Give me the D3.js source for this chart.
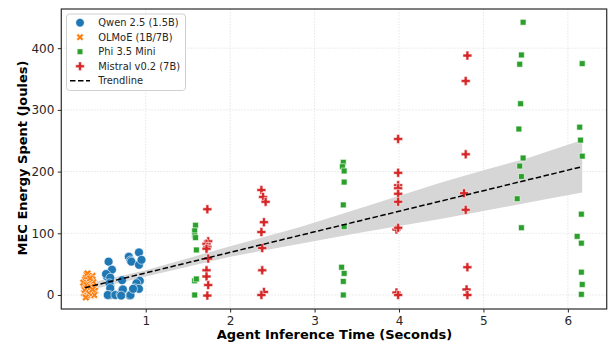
<!DOCTYPE html>
<html><head><meta charset="utf-8">
<script src="https://cdn.jsdelivr.net/npm/d3@7"></script>
<style>
html,body{margin:0;padding:0;background:#fff;}
svg{display:block;font-family:"DejaVu Sans",sans-serif;}
</style></head>
<body>
<svg id="chart" width="611" height="344"></svg>
<script>
// ---- data ----
const seriesNames = ["Qwen 2.5 (1.5B)", "OLMoE (1B/7B)", "Phi 3.5 Mini", "Mistral v0.2 (7B)"];
const seriesColors = ["#1f77b4", "#ff7f0e", "#2ca02c", "#d62728"];

const qwenPoints = [
  [0.56,54],[0.60,41],[0.54,30],[0.53,34],[0.58,28],[0.58,16],[0.57,19],[0.58,11],[0.57,0],[0.55,0],
  [0.64,0],[0.70,1],[0.72,24],[0.72,8],[0.73,9],[0.71,-1],[0.81,-1],[0.82,0],[0.80,62],[0.82,56],
  [0.83,54],[0.92,69],[0.92,49],[0.95,57],[0.92,22],[0.93,23],[0.89,19],[0.87,11],[0.92,10],[0.85,10]
];
const olmoePoints = [
  [0.27,3],[0.29,12],[0.31,22],[0.33,30],[0.35,8],[0.37,17],[0.30,-2],[0.34,0],[0.38,4],[0.28,25],
  [0.32,14],[0.36,26],[0.39,12],[0.30,33],[0.34,20],[0.27,16],[0.31,6],[0.35,-1],[0.38,21],[0.29,28],
  [0.33,10],[0.36,2],[0.40,7],[0.28,8],[0.32,19],[0.37,31],[0.31,35],[0.26,20],[0.34,27],[0.39,0],
  [0.30,16],[0.35,13],[0.33,3],[0.29,-4],[0.37,9]
];
const phiPoints = [
  [1.59,113],[1.58,104],[1.58,96],[1.59,93],[1.60,73],[1.58,23],[1.60,26],[1.58,0],
  [3.34,215],[3.33,208],[3.35,201],[3.35,183],[3.34,146],[3.35,111],[3.32,45],[3.35,35],[3.34,22],[3.34,0],
  [5.47,442],[5.45,389],[5.43,374],[5.44,310],[5.42,269],[5.47,222],[5.43,209],[5.45,192],[5.40,156],[5.45,109],
  [6.17,375],[6.14,272],[6.15,251],[6.17,225],[6.16,131],[6.11,95],[6.16,84],[6.16,37],[6.17,17],[6.16,1]
];
const mistralPoints = [
  [1.73,139],[1.74,87],[1.72,83],[1.73,78],[1.72,75],[1.74,59],[1.72,40],[1.72,30],[1.74,16],[1.73,-1],
  [2.37,170],[2.39,159],[2.42,151],[2.40,118],[2.37,102],[2.38,76],[2.38,40],[2.40,5],[2.37,0],
  [3.99,253],[3.99,198],[3.99,178],[3.99,173],[3.99,164],[3.99,151],[3.97,106],[3.99,109],[3.97,4],[3.99,0],
  [4.81,388],[4.79,347],[4.79,228],[4.77,165],[4.79,138],[4.81,45],[4.80,9],[4.81,0]
];

// trendline and confidence band
const trendX = [0.28, 6.17];
const trendY = [11.8, 208];
const bandX     = [0.28, 1.0, 1.41, 2.0, 2.83, 3.5, 4.49, 5.0, 5.5, 6.17];
const bandUpper = [18,   40,  56,   79,  110, 139, 182, 202, 221, 251];
const bandLower = [6,    30,  43,   62,   83, 100, 123, 136, 149, 166];

const xTicks = [1, 2, 3, 4, 5, 6];
const yTicks = [0, 100, 200, 300, 400];
const xLabel = "Agent Inference Time (Seconds)";
const yLabel = "MEC Energy Spent (Joules)";
const trendLabel = "Trendline";

// ---- layout ----
const svg = d3.select("#chart");
const L = 61.3, R = 606.7, T = 9, B = 309;
const x = d3.scaleLinear().domain([0, 6.46]).range([L, R]);
const y = d3.scaleLinear().domain([-22.7, 463.5]).range([B, T]);

// grid
const grid = svg.append("g");
grid.selectAll(".gx").data(xTicks).join("line")
  .attr("x1", d => x(d)).attr("x2", d => x(d)).attr("y1", T).attr("y2", B)
  .attr("stroke", "#e0e0e0").attr("stroke-width", 0.8).attr("stroke-dasharray", "1.5,1.5");
grid.selectAll(".gy").data(yTicks).join("line")
  .attr("y1", d => y(d)).attr("y2", d => y(d)).attr("x1", L).attr("x2", R)
  .attr("stroke", "#e0e0e0").attr("stroke-width", 0.8).attr("stroke-dasharray", "1.5,1.5");

// confidence band
const bandData = bandX.map((v, i) => ({x: v, lo: bandLower[i], hi: bandUpper[i]}));
svg.append("path").datum(bandData)
  .attr("d", d3.area().x(d => x(d.x)).y0(d => y(d.lo)).y1(d => y(d.hi)))
  .attr("fill", "#d6d6d6");

// marker shapes
function plusPath(s) { // filled plus, total width s
  const a = s / 6;
  const v = [[-1,-3],[1,-3],[1,-1],[3,-1],[3,1],[1,1],[1,3],[-1,3],[-1,1],[-3,1],[-3,-1],[-1,-1]];
  return "M" + v.map(p => (p[0]*a).toFixed(2) + "," + (p[1]*a).toFixed(2)).join("L") + "Z";
}
function xPath(s) { // filled X
  const a = s / 6, c = Math.SQRT1_2;
  const v = [[-1,-3],[1,-3],[1,-1],[3,-1],[3,1],[1,1],[1,3],[-1,3],[-1,1],[-3,1],[-3,-1],[-1,-1]];
  return "M" + v.map(p => {
    const px = (p[0] - p[1]) * c * a, py = (p[0] + p[1]) * c * a;
    return px.toFixed(2) + "," + py.toFixed(2);
  }).join("L") + "Z";
}
const markerPaths = [
  d3.symbol().type(d3.symbolCircle).size(62)(),
  xPath(8),
  d3.symbol().type(d3.symbolSquare).size(34)(),
  plusPath(9)
];

const allSeries = [qwenPoints, olmoePoints, phiPoints, mistralPoints];
const pts = svg.append("g");
allSeries.forEach((data, i) => {
  pts.append("g").selectAll("path").data(data).join("path")
    .attr("d", markerPaths[i])
    .attr("transform", d => `translate(${x(d[0])},${y(d[1])})`)
    .attr("fill", seriesColors[i])
    .attr("stroke", "#fff").attr("stroke-width", 0.7).attr("stroke-opacity", 0.85);
});

// trendline
svg.append("path").datum(trendX.map((v, i) => [v, trendY[i]]))
  .attr("d", d3.line().x(d => x(d[0])).y(d => y(d[1])))
  .attr("fill", "none").attr("stroke", "#000").attr("stroke-width", 1.5)
  .attr("stroke-dasharray", "5.5,2.5");

// axes
const xAxis = svg.append("g").attr("transform", `translate(0,${B})`)
  .call(d3.axisBottom(x).tickValues(xTicks).tickSize(3.5).tickPadding(3.5).tickFormat(d3.format("d")));
const yAxis = svg.append("g").attr("transform", `translate(${L},0)`)
  .call(d3.axisLeft(y).tickValues(yTicks).tickSize(3.5).tickPadding(3.5).tickFormat(d3.format("d")));
[xAxis, yAxis].forEach(g => {
  g.select(".domain").remove();
  g.selectAll("line").attr("stroke", "#262626").attr("stroke-width", 1);
  g.selectAll("text").attr("font-family", "DejaVu Sans").attr("font-size", 12).attr("fill", "#262626");
});

// frame
svg.append("rect").attr("x", L).attr("y", T).attr("width", R - L).attr("height", B - T)
  .attr("fill", "none").attr("stroke", "#333").attr("stroke-width", 1.25);

// axis labels
svg.append("text").attr("x", 334.5).attr("y", 339)
  .attr("text-anchor", "middle").attr("font-weight", "bold").attr("font-size", 13)
  .attr("fill", "#000").text(xLabel);
svg.append("text").attr("transform", `translate(27,158) rotate(-90)`)
  .attr("text-anchor", "middle").attr("font-weight", "bold").attr("font-size", 13)
  .attr("fill", "#000").text(yLabel);

// legend
const lg = svg.append("g");
lg.append("rect").attr("x", 66.5).attr("y", 14).attr("width", 119).attr("height", 76.5).attr("rx", 3)
  .attr("fill", "#fff").attr("fill-opacity", 0.85).attr("stroke", "#d0d0d0").attr("stroke-width", 1);
const rowY = [22.7, 37.2, 51.7, 66.2, 80.7];
seriesNames.forEach((name, i) => {
  lg.append("path").attr("d", markerPaths[i])
    .attr("transform", `translate(80,${rowY[i]}) scale(0.95)`)
    .attr("fill", seriesColors[i]).attr("stroke", "#fff").attr("stroke-width", 0.5);
  lg.append("text").attr("x", 98.3).attr("y", rowY[i]).attr("dy", "0.35em")
    .attr("font-size", 9.9).attr("fill", "#262626").text(name);
});
lg.append("line").attr("x1", 70).attr("x2", 90).attr("y1", rowY[4]).attr("y2", rowY[4])
  .attr("stroke", "#000").attr("stroke-width", 1.5).attr("stroke-dasharray", "5.5,2.5");
lg.append("text").attr("x", 98.3).attr("y", rowY[4]).attr("dy", "0.35em")
  .attr("font-size", 9.9).attr("fill", "#262626").text(trendLabel);
</script>
</body></html>
